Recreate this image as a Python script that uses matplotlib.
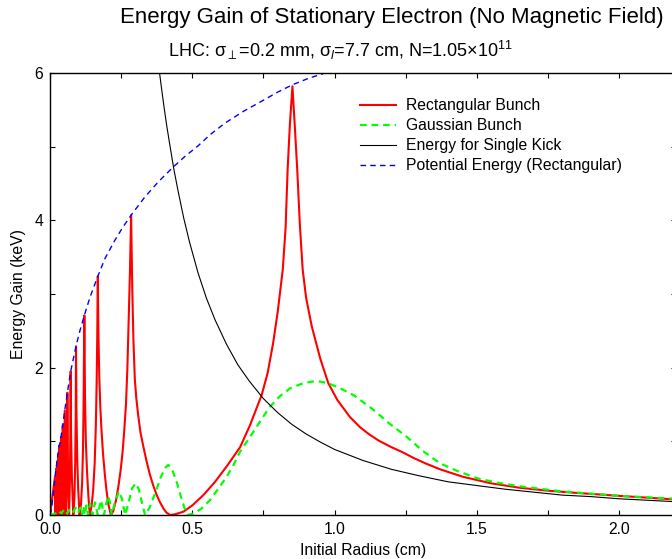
import matplotlib
matplotlib.use('Agg')
import matplotlib.pyplot as plt
from matplotlib.ticker import MultipleLocator

plt.rcParams['font.family'] = ['Liberation Sans', 'DejaVu Sans']
plt.rcParams['mathtext.fontset'] = 'custom'
plt.rcParams['mathtext.rm'] = 'Liberation Sans'
plt.rcParams['mathtext.it'] = 'Liberation Sans:italic'

# rectangular bunch (red)
r_rect = [0.000, 0.0176, 0.0195, 0.0215, 0.023, 0.025, 0.027, 0.029, 0.031, 0.0335, 0.036,
          0.0387, 0.042, 0.045, 0.0485, 0.052, 0.0565,
          0.059, 0.061, 0.0635, 0.067,
          0.0695, 0.0715, 0.0727, 0.074, 0.077, 0.082,
          0.086, 0.0885, 0.0905, 0.0914, 0.093, 0.0955, 0.099, 0.104,
          0.109, 0.113, 0.116, 0.118, 0.1207, 0.123, 0.126, 0.130, 0.135, 0.140,
          0.146, 0.152, 0.157, 0.161, 0.164, 0.166, 0.168, 0.170, 0.173, 0.177,
          0.181, 0.186, 0.192, 0.198, 0.205, 0.214,
          0.222, 0.232, 0.240, 0.248, 0.255, 0.261, 0.267, 0.272, 0.277, 0.281, 0.285,
          0.289, 0.293, 0.298, 0.303, 0.310, 0.318, 0.328, 0.340, 0.351, 0.362, 0.375,
          0.387, 0.400, 0.410, 0.422, 0.440, 0.469, 0.500, 0.539, 0.580, 0.621, 0.668,
          0.703, 0.744, 0.765, 0.784, 0.800, 0.818, 0.828, 0.835, 0.843, 0.852,
          0.860, 0.869, 0.878, 0.888, 0.900, 0.920, 0.950, 0.978, 1.010, 1.054, 1.090,
          1.120, 1.155, 1.195, 1.240, 1.280, 1.320, 1.371, 1.450, 1.550, 1.650, 1.750,
          1.850, 2.000, 2.100, 2.200]
e_rect = [0.00, 0.52, 0.00, 0.63, 0.00, 0.73, 0.00, 0.83, 0.00, 0.95, 0.00,
          1.06, 0.00, 1.22, 0.00, 1.42, 0.00,
          0.50, 1.66, 0.50, 0.00,
          0.40, 1.10, 1.95, 1.10, 0.50, 0.00,
          0.25, 0.70, 1.40, 2.29, 1.40, 0.80, 0.35, 0.00,
          0.15, 0.45, 0.90, 1.50, 2.71, 1.60, 1.00, 0.60, 0.25, 0.00,
          0.12, 0.35, 0.70, 1.20, 1.80, 2.40, 3.24, 2.50, 1.90, 1.45,
          1.15, 0.85, 0.58, 0.35, 0.15, 0.00,
          0.05, 0.20, 0.38, 0.60, 0.85, 1.15, 1.50, 2.00, 2.70, 3.30, 4.07,
          3.10, 2.40, 1.85, 1.60, 1.35, 1.12, 0.93, 0.72, 0.55, 0.41, 0.27,
          0.17, 0.08, 0.03, 0.00, 0.01, 0.045, 0.13, 0.27, 0.45, 0.66, 0.92,
          1.22, 1.63, 1.93, 2.33, 2.75, 3.33, 3.90, 4.68, 5.30, 5.82,
          5.30, 4.68, 3.95, 3.33, 2.95, 2.56, 2.12, 1.79, 1.56, 1.33, 1.19,
          1.10, 1.01, 0.93, 0.85, 0.77, 0.70, 0.62, 0.52, 0.43, 0.37, 0.33,
          0.30, 0.26, 0.235, 0.21]

# gaussian bunch (green)
r_gauss = [0.000, 0.020, 0.030, 0.040, 0.050, 0.060, 0.070, 0.080, 0.090, 0.099, 0.107,
           0.112, 0.117, 0.122, 0.128, 0.134, 0.141, 0.149, 0.158, 0.168, 0.179,
           0.190, 0.197, 0.205, 0.211, 0.217, 0.228, 0.2425, 0.253, 0.264,
           0.275, 0.288, 0.301, 0.312, 0.323, 0.334,
           0.350, 0.370, 0.390, 0.405, 0.416, 0.428, 0.445, 0.460, 0.472, 0.485,
           0.504, 0.530, 0.562, 0.590, 0.621, 0.645, 0.668, 0.703, 0.740, 0.773,
           0.810, 0.844, 0.890, 0.937, 0.977, 1.020, 1.070, 1.136, 1.190, 1.254,
           1.310, 1.371, 1.430, 1.500, 1.570, 1.650, 1.800, 2.000, 2.200]
e_gauss = [0.00, 0.02, 0.06, 0.02, 0.08, 0.02, 0.08, 0.03, 0.10, 0.03, 0.10,
           0.00, 0.12, 0.00, 0.13, 0.00, 0.15, 0.00, 0.17, 0.00, 0.20,
           0.00, 0.15, 0.26, 0.16, 0.00, 0.17, 0.32, 0.22, 0.00,
           0.15, 0.36, 0.43, 0.35, 0.17, 0.00,
           0.10, 0.30, 0.52, 0.64, 0.68, 0.63, 0.45, 0.25, 0.10, 0.00,
           0.02, 0.08, 0.20, 0.35, 0.52, 0.68, 0.86, 1.06, 1.28, 1.47,
           1.62, 1.72, 1.79, 1.82, 1.79, 1.72, 1.62, 1.43, 1.25, 1.06,
           0.87, 0.70, 0.60, 0.50, 0.44, 0.39, 0.32, 0.26, 0.22]

# single kick energy (black)
r_kick = [0.385, 0.39, 0.40, 0.41, 0.42, 0.435, 0.45, 0.47, 0.49, 0.52, 0.55, 0.58,
          0.62, 0.66, 0.70, 0.75, 0.80, 0.85, 0.90, 0.95, 1.00, 1.10, 1.20, 1.30,
          1.40, 1.50, 1.60, 1.70, 1.80, 1.90, 2.00, 2.10, 2.20]
e_kick = [6.00, 5.85, 5.56, 5.29, 5.05, 4.70, 4.40, 4.03, 3.71, 3.29, 2.94, 2.65,
          2.32, 2.04, 1.82, 1.58, 1.39, 1.23, 1.10, 0.99, 0.89, 0.74, 0.62, 0.53,
          0.45, 0.40, 0.35, 0.31, 0.27, 0.25, 0.22, 0.20, 0.18]

# potential energy, rectangular (blue)
r_pot = [0.000, 0.004, 0.008, 0.012, 0.0176, 0.022, 0.027, 0.033, 0.0387, 0.045, 0.050,
         0.061, 0.0727, 0.082, 0.0914, 0.105, 0.1207, 0.140, 0.168, 0.193, 0.228, 0.255,
         0.285, 0.334, 0.380, 0.432, 0.475, 0.520, 0.565, 0.615, 0.680, 0.745, 0.800,
         0.852, 0.910, 0.967]
e_pot = [0.00, 0.06, 0.17, 0.30, 0.52, 0.65, 0.80, 0.94, 1.06, 1.22, 1.37,
         1.66, 1.95, 2.12, 2.29, 2.50, 2.71, 2.95, 3.24, 3.48, 3.73, 3.90,
         4.07, 4.32, 4.52, 4.72, 4.87, 5.01, 5.17, 5.32, 5.48, 5.62, 5.74,
         5.84, 5.93, 6.00]

fig = plt.figure(figsize=(6.72, 5.59), dpi=100)
ax = fig.add_axes([50/672, 44/559, 626/672, 442/559])

ax.plot(r_rect, e_rect, color='red', lw=1.5, label='Rectangular Bunch')
ax.plot(r_gauss, e_gauss, color='#00ff00', lw=1.6, ls=(0, (3, 2.2)), label='Gaussian Bunch')
ax.plot(r_kick, e_kick, color='black', lw=0.8, label='Energy for Single Kick')
ax.plot(r_pot, e_pot, color='blue', lw=1.0, ls=(0, (4, 3)), label='Potential Energy (Rectangular)')

ax.set_xlim(0, 2.2)
ax.set_ylim(0, 6)
ax.xaxis.set_minor_locator(MultipleLocator(0.25))
ax.yaxis.set_major_locator(MultipleLocator(2))
ax.yaxis.set_minor_locator(MultipleLocator(1))
ax.set_xticks([0, 0.5, 1.0, 1.5, 2.0])
ax.set_xticklabels(['0.0', '0.5', '1.0', '1.5', '2.0'])
ax.tick_params(which='both', direction='in', top=True, right=True,
               length=3.6, width=0.8, labelsize=11.3, pad=5)
for s in ax.spines.values():
    s.set_linewidth(1.0)

ax.set_xlabel('Initial Radius (cm)', fontsize=11.3, labelpad=4)
ax.set_ylabel('Energy Gain (keV)', fontsize=11.3, labelpad=6)

leg = ax.legend(loc='upper left', bbox_to_anchor=(346/672, 1 - 84/559),
                bbox_transform=fig.transFigure, frameon=False, fontsize=11.3,
                handlelength=2.3, handletextpad=0.6, labelspacing=0.32)

fig.text(392/672, 1 - 18/559, 'Energy Gain of Stationary Electron (No Magnetic Field)',
         ha='center', va='center', fontsize=16)
fig.text(341/672, 1 - 50/559,
         r'LHC: σ$_{\perp}$=0.2 mm, σ$_{l}$=7.7 cm, N=1.05$\times$10$^{11}$',
         ha='center', va='center', fontsize=13)

fig.savefig('out.png', dpi=100)
